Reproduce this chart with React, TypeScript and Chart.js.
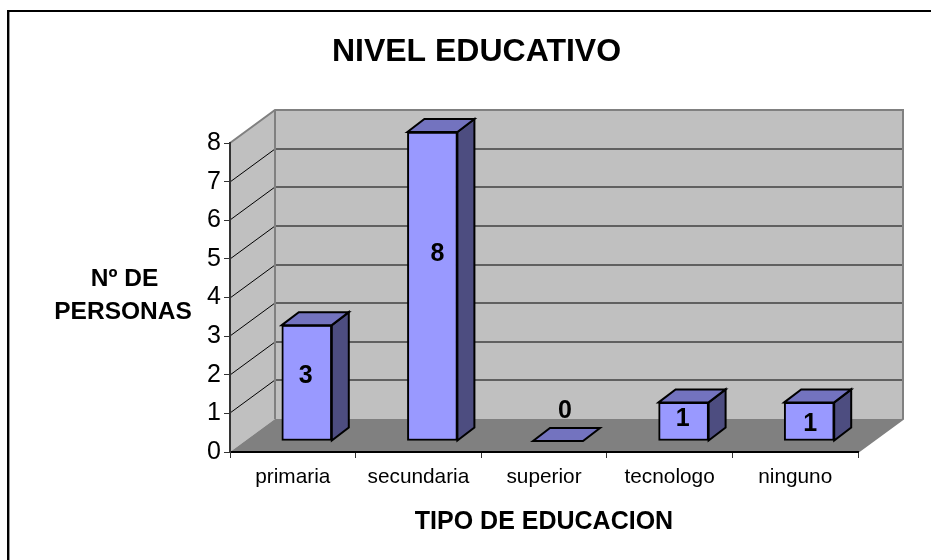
import React, { useEffect, useRef } from "react";
import { Chart, registerables } from "chart.js";

Chart.register(...registerables);

const categories = ["primaria", "secundaria", "superior", "tecnologo", "ninguno"];
const personas = [3, 8, 0, 1, 1];
const yTicks = [0, 1, 2, 3, 4, 5, 6, 7, 8];
const chartTitle = "NIVEL EDUCATIVO";
const xTitle = "TIPO DE EDUCACION";
const yTitleLines = ["Nº DE", "PERSONAS"];
const labelNudges = [[-1, -7], [5, -32], [7, -30], [-1, -2], [1, 3]];

const FONT = "'Liberation Sans', Arial, sans-serif";
const WALL_DX = 45;
const WALL_DY = -33;
const BAR_DX = 14;
const BAR_DY = -11;
const BAR_DEPTH_X = 17;
const BAR_DEPTH_Y = -13;

function poly(ctx: CanvasRenderingContext2D, pts: number[][], fill: string, stroke: string, width: number) {
  ctx.beginPath();
  pts.forEach((p, i) => (i ? ctx.lineTo(p[0], p[1]) : ctx.moveTo(p[0], p[1])));
  ctx.closePath();
  ctx.fillStyle = fill;
  ctx.fill();
  if (width > 0) {
    ctx.strokeStyle = stroke;
    ctx.lineWidth = width;
    ctx.lineJoin = "miter";
    ctx.stroke();
  }
}

const scene3d = {
  id: "scene3d",
  beforeDraw(chart: any) {
    const { ctx, chartArea: a, scales } = chart;
    const y = scales.y;
    ctx.save();
    ctx.fillStyle = "#fff";
    ctx.fillRect(0, 0, chart.width, chart.height);
    // frame: only the top and left edges appear in the picture
    ctx.strokeStyle = "#000";
    ctx.lineWidth = 2;
    ctx.beginPath();
    ctx.moveTo(8, 560);
    ctx.lineTo(8, 11);
    ctx.lineTo(931, 11);
    ctx.stroke();
    ctx.strokeStyle = "#999";
    ctx.lineWidth = 1;
    ctx.beginPath();
    ctx.moveTo(9.5, 560);
    ctx.lineTo(9.5, 12);
    ctx.stroke();
    poly(ctx, [[a.left, a.top], [a.left + WALL_DX, a.top + WALL_DY], [a.left + WALL_DX, a.bottom + WALL_DY], [a.left, a.bottom]], "#C0C0C0", "#C0C0C0", 0);
    poly(ctx, [[a.left + WALL_DX, a.top + WALL_DY], [a.right + WALL_DX, a.top + WALL_DY], [a.right + WALL_DX, a.bottom + WALL_DY], [a.left + WALL_DX, a.bottom + WALL_DY]], "#C0C0C0", "#808080", 0);
    poly(ctx, [[a.left, a.bottom], [a.left + WALL_DX, a.bottom + WALL_DY], [a.right + WALL_DX, a.bottom + WALL_DY], [a.right, a.bottom]], "#808080", "#808080", 0);
    yTicks.forEach((t) => {
      if (t === 0 || t === 8) return;
      const py = Math.round(y.getPixelForValue(t));
      ctx.strokeStyle = "#000";
      ctx.lineWidth = 1;
      ctx.beginPath();
      ctx.moveTo(a.left, py);
      ctx.lineTo(a.left + WALL_DX, py + WALL_DY);
      ctx.stroke();
      ctx.strokeStyle = "#404040";
      ctx.lineWidth = 1.5;
      ctx.beginPath();
      ctx.moveTo(a.left + WALL_DX, py + WALL_DY);
      ctx.lineTo(a.right + WALL_DX, py + WALL_DY);
      ctx.stroke();
    });
    ctx.strokeStyle = "#808080";
    ctx.lineWidth = 2;
    ctx.beginPath();
    ctx.moveTo(a.left, a.top);
    ctx.lineTo(a.left + WALL_DX, a.top + WALL_DY);
    ctx.lineTo(a.right + WALL_DX, a.top + WALL_DY);
    ctx.lineTo(a.right + WALL_DX, a.bottom + WALL_DY);
    ctx.lineTo(a.right, a.bottom);
    ctx.moveTo(a.left + WALL_DX, a.top + WALL_DY);
    ctx.lineTo(a.left + WALL_DX, a.bottom + WALL_DY);
    ctx.stroke();
    ctx.restore();
  },
  beforeDatasetsDraw(chart: any) {
    chart.ctx.save();
    chart.ctx.translate(BAR_DX, BAR_DY);
  },
  afterDatasetsDraw(chart: any) {
    const { ctx } = chart;
    const meta = chart.getDatasetMeta(0);
    meta.data.forEach((bar: any) => {
      const half = bar.width / 2;
      const l = bar.x - half;
      const r = bar.x + half;
      const t = bar.y;
      const b = bar.base;
      if (b - t > 0) {
        poly(ctx, [[r, t], [r + BAR_DEPTH_X, t + BAR_DEPTH_Y], [r + BAR_DEPTH_X, b + BAR_DEPTH_Y], [r, b]], "#4D4D80", "#000", 2);
      }
      poly(ctx, [[l, t], [l + BAR_DEPTH_X, t + BAR_DEPTH_Y], [r + BAR_DEPTH_X, t + BAR_DEPTH_Y], [r, t]], "#7373BF", "#000", 2);
    });
    ctx.restore();
    ctx.save();
    ctx.font = `bold 25px ${FONT}`;
    ctx.fillStyle = "#000";
    ctx.textAlign = "center";
    ctx.textBaseline = "middle";
    meta.data.forEach((bar: any, i: number) => {
      const cx = bar.x + BAR_DX + labelNudges[i][0];
      const cy = (bar.y + bar.base) / 2 + BAR_DY + labelNudges[i][1];
      ctx.fillText(String(personas[i]), cx, cy);
    });
    ctx.font = `bold 24.5px ${FONT}`;
    ctx.fillText(yTitleLines[0], 124.5, 279);
    ctx.fillText(yTitleLines[1], 123, 312.5);
    ctx.font = `bold 32px ${FONT}`;
    ctx.fillText(chartTitle, 476.5, 52);
    ctx.restore();
  },
};

export default function App() {
  const ref = useRef<HTMLCanvasElement>(null);
  useEffect(() => {
    document.body.style.margin = "0";
    const chart = new Chart(ref.current!, {
      type: "bar",
      data: {
        labels: categories,
        datasets: [
          {
            data: personas,
            backgroundColor: "#9999FF",
            borderColor: "#000",
            borderWidth: 2,
            borderSkipped: false,
            barThickness: 50,
            clip: false as any,
          },
        ],
      },
      options: {
        animation: false,
        responsive: false,
        layout: { padding: { left: 0, right: 73, top: 143, bottom: 23 } },
        plugins: {
          legend: { display: false },
          tooltip: { enabled: false },
          title: { display: false },
        },
        scales: {
          x: {
            afterFit: (s: any) => { s.height = 85; },
            grid: { drawOnChartArea: false, drawTicks: true, tickLength: 6, color: "#333", offset: true },
            border: { color: "#000", width: 2 },
            ticks: { color: "#000", font: { family: FONT, size: 20.8 }, padding: 7, maxRotation: 0 },
            title: {
              display: true,
              text: xTitle,
              color: "#000",
              font: { family: FONT, size: 25, weight: "bold" },
              padding: { top: 10, bottom: 0 },
            },
          },
          y: {
            min: 0,
            max: 8,
            afterFit: (s: any) => { s.width = 230; },
            afterBuildTicks: (s: any) => { s.ticks = yTicks.map((value) => ({ value })); },
            grid: { drawOnChartArea: false, drawTicks: true, tickLength: 6, color: "#333" },
            border: { color: "#333", width: 2 },
            ticks: { color: "#000", font: { family: FONT, size: 25 }, padding: 3 },
          },
        },
      },
      plugins: [scene3d],
    } as any);
    return () => chart.destroy();
  }, []);
  return <canvas ref={ref} width={931} height={560} style={{ display: "block", width: 931, height: 560 }} />;
}
